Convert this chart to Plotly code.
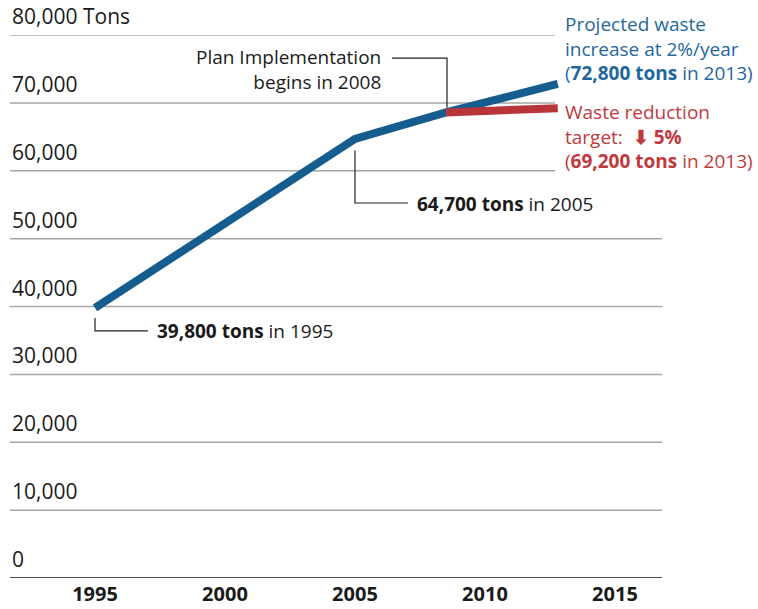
import plotly.graph_objects as go

# ---- data ----
years_proj = [1995, 2005, 2008.5, 2012.8]
tons_proj = [39800, 64700, 68600, 72800]
years_target = [2008.5, 2012.8]
tons_target = [68600, 69200]

x_ticks = [1995, 2000, 2005, 2010, 2015]
x_tick_text = ["1995", "2000", "2005", "2010", "2015"]
y_grid = [0, 10000, 20000, 30000, 40000, 50000, 60000, 70000, 80000]
y_labels = ["0", "10,000", "20,000", "30,000", "40,000", "50,000", "60,000", "70,000", "80,000 Tons"]

BLUE = "#155d8e"
BLUE_TXT = "#1f679c"
RED = "#b8353a"
RED_TXT = "#c0393d"
FONT = "Open Sans"

XMIN, XMAX = 1991.73, 2016.81

fig = go.Figure()

# gridlines
shapes = []
for v in y_grid:
    if v == 0:
        shapes.append(dict(type="line", xref="paper", yref="y", x0=0, x1=1, y0=v, y1=v,
                           line=dict(color="#4a4a4a", width=2), layer="below"))
    else:
        x1 = 0.836 if v >= 60000 else 1
        shapes.append(dict(type="line", xref="paper", yref="y", x0=0, x1=x1, y0=v, y1=v,
                           line=dict(color="#a6a6a6", width=1.5), layer="below"))

# leader lines
lc = dict(color="#222222", width=1.2)
shapes.append(dict(type="path", xref="x", yref="y",
                   path="M 1995,38300 L 1995,36400 L 1997.04,36400", line=lc))
shapes.append(dict(type="path", xref="x", yref="y",
                   path="M 2005,63000 L 2005,55250 L 2007.04,55250", line=lc))
shapes.append(dict(type="path", xref="x", yref="y",
                   path="M 2006.42,76600 L 2008.54,76600 L 2008.54,69300", line=lc))

fig.add_trace(go.Scatter(x=years_proj, y=tons_proj, mode="lines",
                         line=dict(color=BLUE, width=8), hoverinfo="skip", showlegend=False))
fig.add_trace(go.Scatter(x=years_target, y=tons_target, mode="lines",
                         line=dict(color=RED, width=8), hoverinfo="skip", showlegend=False))

annotations = []
for v, lab in zip(y_grid, y_labels):
    annotations.append(dict(xref="paper", yref="y", x=0, y=v, text=lab, showarrow=False,
                            xanchor="left", yanchor="bottom", yshift=3,
                            font=dict(family=FONT, size=21, color="#1a1a1a")))

tf = dict(family=FONT, size=19, color="#1a1a1a")
annotations += [
    dict(x=1997.3, y=36450, text="<b>39,800 tons</b> in 1995", showarrow=False,
         xanchor="left", yanchor="middle", font=tf),
    dict(x=2007.3, y=55150, text="<b>64,700 tons</b> in 2005", showarrow=False,
         xanchor="left", yanchor="middle", font=tf),
    dict(x=2006.08, y=74980, text="Plan Implementation<br>begins in 2008", showarrow=False,
         xanchor="right", yanchor="middle", align="right", font=tf),
    dict(x=2013.0, y=78070, text="Projected waste<br>increase at 2%/year<br>(<b>72,800 tons</b> in 2013)",
         showarrow=False, xanchor="left", yanchor="middle", align="left",
         font=dict(family=FONT, size=19, color=BLUE_TXT)),
    dict(x=2013.0, y=65000, text="Waste reduction<br>target:  <b>⬇ 5%</b><br>(<b>69,200 tons</b> in 2013)",
         showarrow=False, xanchor="left", yanchor="middle", align="left",
         font=dict(family=FONT, size=19, color=RED_TXT)),
]

fig.update_layout(
    width=758, height=609,
    margin=dict(l=10, r=96, t=35, b=31, autoexpand=False),
    plot_bgcolor="white", paper_bgcolor="white",
    shapes=shapes, annotations=annotations,
    xaxis=dict(range=[XMIN, XMAX], tickvals=x_ticks, ticktext=x_tick_text,
               showgrid=False, zeroline=False, showline=False, ticks="",
               automargin=False, ticklabelstandoff=2,
               tickfont=dict(family=FONT, size=20, color="#1a1a1a", weight="bold"),
               fixedrange=True),
    yaxis=dict(range=[0, 80000], showgrid=False, zeroline=False, showline=False,
               showticklabels=False, ticks="", automargin=False, fixedrange=True),
)

fig.write_html("out.html")
